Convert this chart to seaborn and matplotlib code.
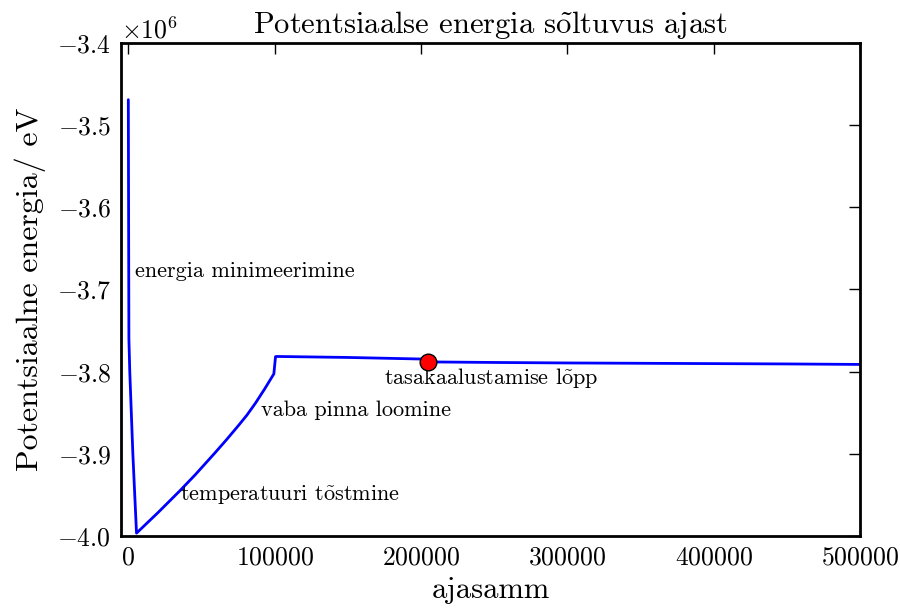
import numpy as np
import pandas as pd
import matplotlib
matplotlib.use("Agg")
import matplotlib.pyplot as plt
import seaborn as sns

# Simulation time steps and potential energy (eV)
steps = [0, 400, 1000, 3100, 5600, 20000, 35200, 45450, 59130, 67000, 75050,
         81000, 87000, 93000, 99450, 100600, 101500, 150000, 200000, 204000,
         210000, 250000, 300000, 350000, 400000, 450000, 500000]
energy = [-3.469e6, -3.760e6, -3.800e6, -3.900e6, -3.9965e6, -3.972e6,
          -3.945e6, -3.926e6, -3.899e6, -3.883e6, -3.866e6,
          -3.853e6, -3.838e6, -3.8215e6, -3.8027e6, -3.7817e6, -3.7815e6,
          -3.7827e6, -3.7846e6, -3.7850e6, -3.7882e6, -3.7888e6, -3.7894e6,
          -3.7898e6, -3.7902e6, -3.7906e6, -3.7912e6]

# End of equilibration
eq_step = [204900]
eq_energy = [-3.7885e6]

# Stage labels: (text, step, energy)
stage_text = ["energia minimeerimine",
              "temperatuuri t$\\tilde{\\mathrm{o}}$stmine",
              "vaba pinna loomine",
              "tasakaalustamise l$\\tilde{\\mathrm{o}}$pp"]
stage_x = [4400, 35500, 90500, 175000]
stage_y = [-3.6847e6, -3.9565e6, -3.8545e6, -3.8155e6]

x_ticks = [0, 100000, 200000, 300000, 400000, 500000]
y_ticks = [-3.4e6, -3.5e6, -3.6e6, -3.7e6, -3.8e6, -3.9e6, -4.0e6]

sns.set_style("white")
plt.rcParams.update({
    "font.family": ["cmr10", "DejaVu Serif"],
    "mathtext.fontset": "cm",
    "axes.formatter.use_mathtext": True,
    "axes.unicode_minus": True,
    "text.color": "black",
    "axes.labelcolor": "black",
    "xtick.color": "black",
    "ytick.color": "black",
})

df = pd.DataFrame({"ajasamm": steps, "energia": energy})

fig = plt.figure(figsize=(9, 6.13), dpi=100)
ax = fig.add_axes([121 / 900, 1 - 536 / 613, (860 - 121) / 900, (536 - 43) / 613])

sns.lineplot(data=df, x="ajasamm", y="energia", ax=ax, color="blue",
             linewidth=2.0, sort=False, estimator=None)
ax.plot(eq_step, eq_energy, "o", color="red", markeredgecolor="black",
        markersize=12, markeredgewidth=1.0, zorder=5)

for t, xx, yy in zip(stage_text, stage_x, stage_y):
    ax.text(xx, yy, t, fontsize=16, color="black")

ax.set_xlim(-5000, 500000)
ax.set_ylim(-4.0e6, -3.4e6)
ax.set_xticks(x_ticks)
ax.set_yticks(y_ticks)
ax.ticklabel_format(axis="y", style="sci", scilimits=(0, 0), useOffset=False)
ax.ticklabel_format(axis="x", style="plain", useOffset=False)

ax.tick_params(direction="in", length=8, width=1, labelsize=18.5,
               top=True, right=True, pad=7, colors="black")
ax.yaxis.get_offset_text().set_fontsize(18.5)
for s in ax.spines.values():
    s.set_linewidth(2.0)
    s.set_color("black")

ax.set_xlabel("ajasamm", fontsize=22, labelpad=5)
ax.set_ylabel("Potentsiaalne energia/ eV", fontsize=23, labelpad=8)
ax.set_title("Potentsiaalse energia s$\\tilde{\\mathrm{o}}$ltuvus ajast",
             fontsize=22, pad=7, color="black")

fig.savefig("out.png", dpi=100, facecolor="white")
